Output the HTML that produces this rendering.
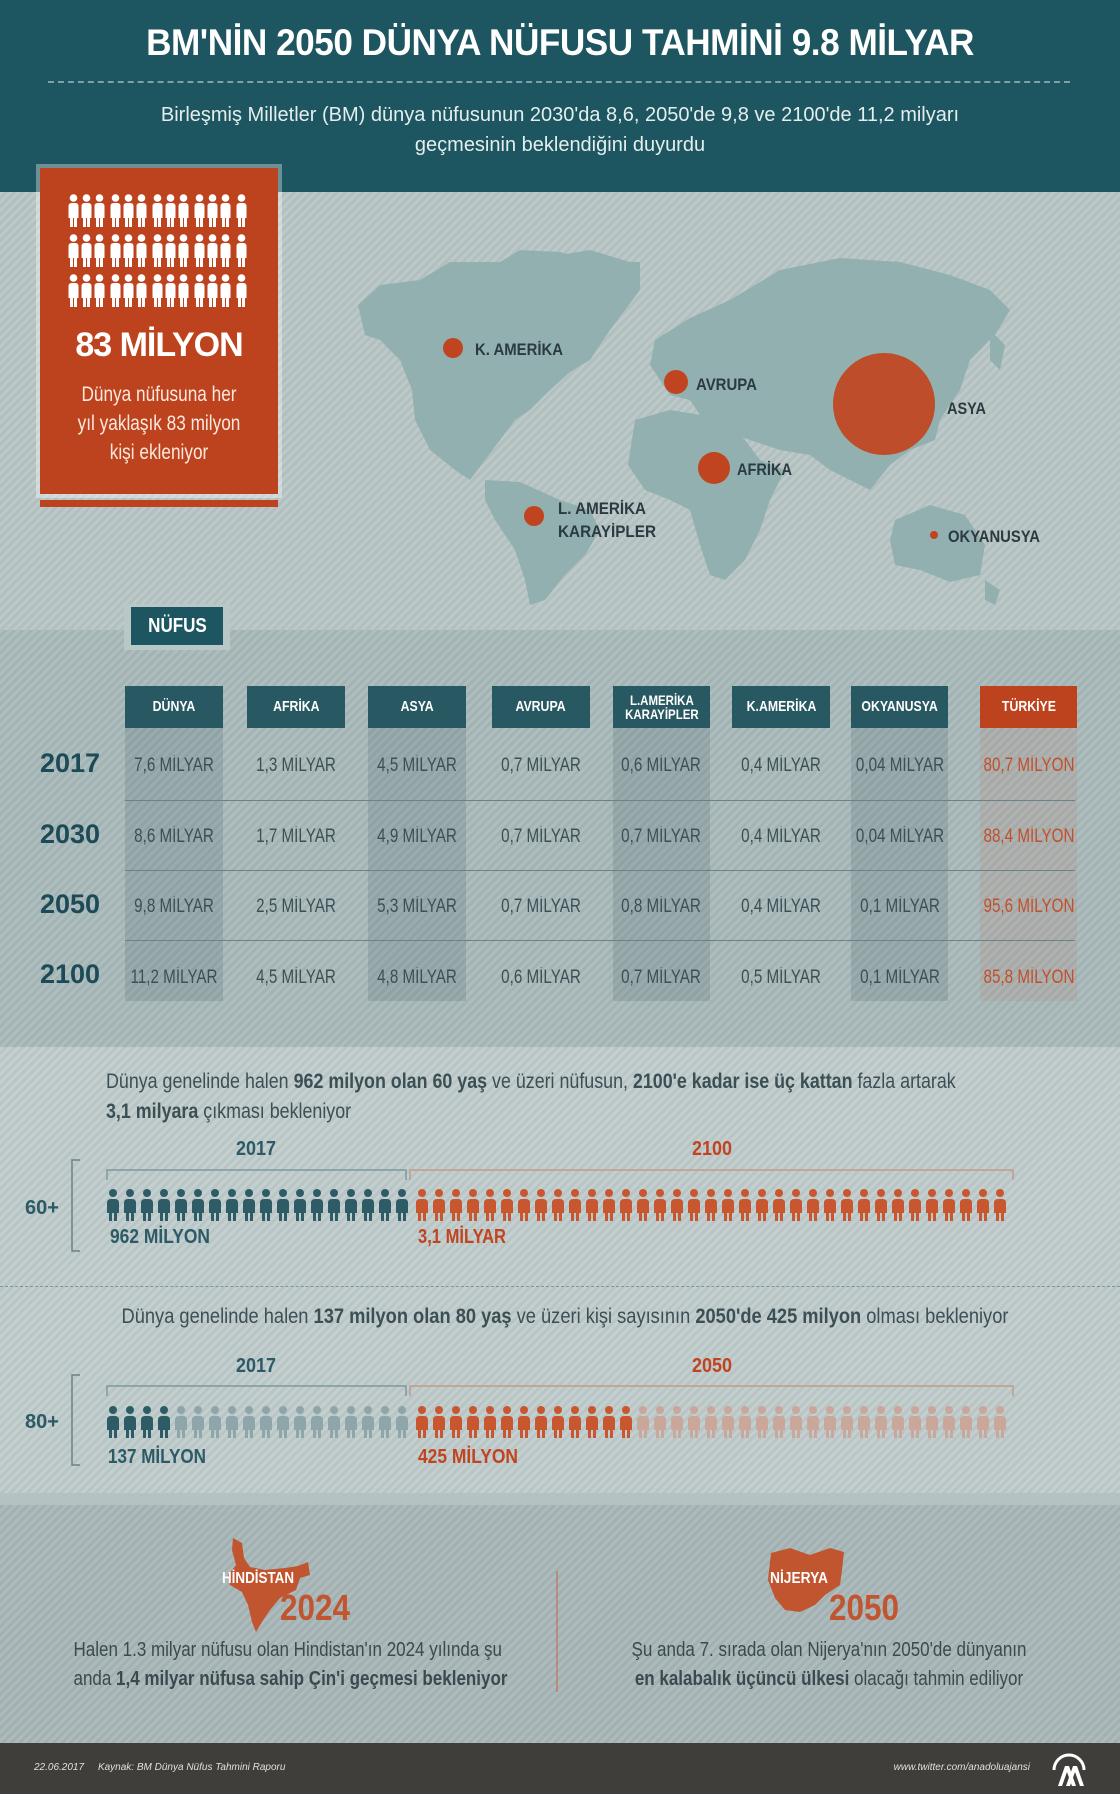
<!DOCTYPE html>
<html><head><meta charset="utf-8">
<style>
*{margin:0;padding:0;box-sizing:border-box}
body{width:1120px;height:1794px;position:relative;overflow:hidden;font-family:"Liberation Sans",sans-serif;background:#b9c6c6}
.a{position:absolute}
.stripe{background-image:repeating-linear-gradient(135deg,rgba(255,255,255,0.07) 0 3px,rgba(0,0,0,0.03) 3px 6px)}
.c{text-align:center;white-space:nowrap}
.hd{position:absolute;top:686px;height:42px;background:#285862;color:#fff;font-weight:bold;font-size:15px;display:flex;align-items:center;justify-content:center;text-align:center;line-height:14px;white-space:nowrap}
.hd span{display:inline-block;transform:scaleX(.82)}
.col{position:absolute;top:728px;height:273px}
.v{position:absolute;font-size:19px;color:#3b4f55;text-align:center;width:120px;white-space:nowrap;transform:scaleX(.8)}
.yr{position:absolute;left:20px;width:100px;text-align:center;font-weight:bold;font-size:27px;color:#1c4a57}
.rl{position:absolute;left:125px;width:950px;height:1px;background:#6c8286}
</style></head><body>
<div class="a" style="left:0;top:0;width:1120px;height:192px;background:#1d5660"></div>
<div class="a c" style="left:0;top:22px;width:1120px;font-weight:bold;font-size:37px;color:#fff;letter-spacing:-0.5px;transform:scaleX(.95)">BM'NİN 2050 DÜNYA NÜFUSU TAHMİNİ 9.8 MİLYAR</div>
<div class="a" style="left:48px;top:81px;width:1022px;border-top:2px dashed #7fa1a6"></div>
<div class="a c" style="left:0;top:100px;width:1120px;font-size:20px;color:#e4eeee;line-height:30px">Birleşmiş Milletler (BM) dünya nüfusunun 2030'da 8,6, 2050'de 9,8 ve 2100'de 11,2 milyarı<br>geçmesinin beklendiğini duyurdu</div>
<div class="a stripe" style="left:0;top:192px;width:1120px;height:438px;background-color:#b8c5c5"></div>
<svg class="a" style="left:0;top:192px" width="1120" height="438" viewBox="0 192 1120 438">
<g fill="#93b0b0">
<path d="M358 305 L380 285 L420 280 L450 262 L500 262 L520 250 L560 252 L600 262 L640 262 L640 290 L610 330 L590 360 L570 372 L548 392 L530 410 L515 420 L500 440 L485 460 L470 480 L455 470 L430 450 L415 420 L412 390 L400 360 L380 340 L365 335 Z"/>
<path d="M560 255 L590 250 L630 262 L620 290 L590 300 L570 285 Z"/>
<path d="M485 480 L520 482 L560 500 L590 510 L600 530 L585 555 L565 575 L545 600 L530 605 L525 580 L515 550 L495 520 L485 500 Z"/>
<path d="M655 340 L690 318 L730 300 L780 270 L840 258 L900 262 L950 275 L990 290 L1010 310 L995 335 L970 360 L960 390 L940 420 L935 440 L910 450 L890 465 L870 490 L850 480 L830 470 L810 455 L780 450 L750 440 L720 430 L700 415 L690 400 L670 395 L660 380 L650 365 Z"/>
<path d="M635 420 L670 410 L720 418 L745 440 L760 460 L785 470 L770 500 L760 530 L745 560 L725 580 L710 575 L700 545 L690 510 L670 500 L645 490 L628 465 Z"/>
<path d="M895 520 L930 505 L965 515 L985 545 L980 575 L950 582 L920 570 L895 565 L890 540 Z"/>
<path d="M985 580 L1000 590 L995 605 L985 600 Z"/>
<path d="M990 330 L1005 345 L1000 370 L990 360 Z"/>
</g>
<g fill="#c0441f">
<circle cx="453" cy="348" r="10"/><circle cx="676" cy="382" r="12"/><circle cx="884" cy="404" r="51" opacity="0.92"/>
<circle cx="714" cy="468" r="16"/><circle cx="534" cy="516" r="10"/><circle cx="934" cy="535" r="4"/>
</g>
<g font-family="Liberation Sans,sans-serif" font-weight="bold" font-size="17" fill="#2a3a40">
<text x="475" y="355" textLength="88" lengthAdjust="spacingAndGlyphs">K. AMERİKA</text>
<text x="696" y="390" textLength="61" lengthAdjust="spacingAndGlyphs">AVRUPA</text>
<text x="947" y="414" textLength="39" lengthAdjust="spacingAndGlyphs">ASYA</text>
<text x="737" y="475" textLength="55" lengthAdjust="spacingAndGlyphs">AFRİKA</text>
<text x="558" y="514" textLength="88" lengthAdjust="spacingAndGlyphs">L. AMERİKA</text>
<text x="558" y="537" textLength="98" lengthAdjust="spacingAndGlyphs">KARAYİPLER</text>
<text x="948" y="542" textLength="92" lengthAdjust="spacingAndGlyphs">OKYANUSYA</text></g>
</svg>
<div class="a" style="left:36px;top:164px;width:246px;height:334px;background:#fff;opacity:0.35"></div>
<div class="a" style="left:40px;top:168px;width:238px;height:326px;background:#bd431e"></div>
<div class="a" style="left:40px;top:500px;width:238px;height:7px;background:#bd431e"></div>
<svg class="a" style="left:40px;top:168px" width="238" height="150">
<defs><g id="pw"><circle cx="5.5" cy="4" r="3.8"/><path d="M0.5 12 Q0.5 9 4 9 L7 9 Q10.5 9 10.5 12 L10.5 24 L9 24 L9 33 L6 33 L6 24 L5 24 L5 33 L2 33 L2 24 L0.5 24 Z"/></g></defs>
<g fill="#fff">
<use href="#pw" x="28" y="26"/><use href="#pw" x="41" y="26"/><use href="#pw" x="54" y="26"/><use href="#pw" x="70" y="26"/><use href="#pw" x="83" y="26"/><use href="#pw" x="96" y="26"/><use href="#pw" x="112" y="26"/><use href="#pw" x="125" y="26"/><use href="#pw" x="138" y="26"/><use href="#pw" x="154" y="26"/><use href="#pw" x="167" y="26"/><use href="#pw" x="180" y="26"/><use href="#pw" x="196" y="26"/>
<use href="#pw" x="28" y="66"/><use href="#pw" x="41" y="66"/><use href="#pw" x="54" y="66"/><use href="#pw" x="70" y="66"/><use href="#pw" x="83" y="66"/><use href="#pw" x="96" y="66"/><use href="#pw" x="112" y="66"/><use href="#pw" x="125" y="66"/><use href="#pw" x="138" y="66"/><use href="#pw" x="154" y="66"/><use href="#pw" x="167" y="66"/><use href="#pw" x="180" y="66"/><use href="#pw" x="196" y="66"/>
<use href="#pw" x="28" y="106"/><use href="#pw" x="41" y="106"/><use href="#pw" x="54" y="106"/><use href="#pw" x="70" y="106"/><use href="#pw" x="83" y="106"/><use href="#pw" x="96" y="106"/><use href="#pw" x="112" y="106"/><use href="#pw" x="125" y="106"/><use href="#pw" x="138" y="106"/><use href="#pw" x="154" y="106"/><use href="#pw" x="167" y="106"/><use href="#pw" x="180" y="106"/><use href="#pw" x="196" y="106"/>
</g></svg>
<div class="a c" style="left:40px;top:326px;width:238px;font-weight:bold;font-size:34px;color:#fff;letter-spacing:-1px">83 MİLYON</div>
<div class="a c" style="left:40px;top:380px;width:238px;font-size:21px;color:#fbe9e0;line-height:29px;transform:scaleX(.82)">Dünya nüfusuna her<br>yıl yaklaşık 83 milyon<br>kişi ekleniyor</div>
<div class="a stripe" style="left:0;top:630px;width:1120px;height:417px;background-color:#a8b8b9"></div>
<div class="a" style="left:124px;top:604px;width:106px;height:46px;background:#bac7c7"></div>
<div class="a c" style="left:131px;top:607px;width:92px;height:38px;background:#1d5660;color:#fff;font-weight:bold;font-size:20px;line-height:38px"><span style="display:inline-block;transform:scaleX(.85)">NÜFUS</span></div>
<div class="col" style="left:125px;width:98px;background:rgba(60,90,100,0.18)"></div>
<div class="col" style="left:368px;width:98px;background:rgba(60,90,100,0.18)"></div>
<div class="col" style="left:613px;width:97px;background:rgba(60,90,100,0.18)"></div>
<div class="col" style="left:851px;width:97px;background:rgba(60,90,100,0.18)"></div>
<div class="col" style="left:980px;width:97px;background:rgba(190,120,100,0.15)"></div>
<div class="hd" style="left:125px;width:98px"><span>DÜNYA</span></div>
<div class="hd" style="left:247px;width:98px"><span>AFRİKA</span></div>
<div class="hd" style="left:368px;width:98px"><span>ASYA</span></div>
<div class="hd" style="left:492px;width:98px"><span>AVRUPA</span></div>
<div class="hd" style="left:613px;width:97px;font-size:14px;line-height:14px"><span>L.AMERİKA<br>KARAYİPLER</span></div>
<div class="hd" style="left:732px;width:98px"><span>K.AMERİKA</span></div>
<div class="hd" style="left:851px;width:97px"><span>OKYANUSYA</span></div>
<div class="hd" style="left:980px;width:97px;background:#bd431e"><span>TÜRKİYE</span></div>
<div class="rl" style="top:800px"></div><div class="rl" style="top:870px"></div><div class="rl" style="top:940px"></div>
<div class="yr" style="top:748px">2017</div><div class="yr" style="top:819px">2030</div><div class="yr" style="top:889px">2050</div><div class="yr" style="top:959px">2100</div>
<div style="position:absolute;left:0;top:755px">
<div class="v" style="left:114px;top:0">7,6 MİLYAR</div><div class="v" style="left:236px;top:0">1,3 MİLYAR</div><div class="v" style="left:357px;top:0">4,5 MİLYAR</div><div class="v" style="left:481px;top:0">0,7 MİLYAR</div><div class="v" style="left:601px;top:0">0,6 MİLYAR</div><div class="v" style="left:721px;top:0">0,4 MİLYAR</div><div class="v" style="left:840px;top:0">0,04 MİLYAR</div><div class="v" style="left:969px;top:0;color:#c0502d">80,7 MİLYON</div>
<div class="v" style="left:114px;top:71px">8,6 MİLYAR</div><div class="v" style="left:236px;top:71px">1,7 MİLYAR</div><div class="v" style="left:357px;top:71px">4,9 MİLYAR</div><div class="v" style="left:481px;top:71px">0,7 MİLYAR</div><div class="v" style="left:601px;top:71px">0,7 MİLYAR</div><div class="v" style="left:721px;top:71px">0,4 MİLYAR</div><div class="v" style="left:840px;top:71px">0,04 MİLYAR</div><div class="v" style="left:969px;top:71px;color:#c0502d">88,4 MİLYON</div>
<div class="v" style="left:114px;top:141px">9,8 MİLYAR</div><div class="v" style="left:236px;top:141px">2,5 MİLYAR</div><div class="v" style="left:357px;top:141px">5,3 MİLYAR</div><div class="v" style="left:481px;top:141px">0,7 MİLYAR</div><div class="v" style="left:601px;top:141px">0,8 MİLYAR</div><div class="v" style="left:721px;top:141px">0,4 MİLYAR</div><div class="v" style="left:840px;top:141px">0,1 MİLYAR</div><div class="v" style="left:969px;top:141px;color:#c0502d">95,6 MİLYON</div>
<div class="v" style="left:114px;top:212px">11,2 MİLYAR</div><div class="v" style="left:236px;top:212px">4,5 MİLYAR</div><div class="v" style="left:357px;top:212px">4,8 MİLYAR</div><div class="v" style="left:481px;top:212px">0,6 MİLYAR</div><div class="v" style="left:601px;top:212px">0,7 MİLYAR</div><div class="v" style="left:721px;top:212px">0,5 MİLYAR</div><div class="v" style="left:840px;top:212px">0,1 MİLYAR</div><div class="v" style="left:969px;top:212px;color:#c0502d">85,8 MİLYON</div>
</div>
<div class="a stripe" style="left:0;top:1047px;width:1120px;height:446px;background-color:#bfcbcb"></div>
<div class="a" style="left:106px;top:1067px;font-size:21px;color:#3c4f55;line-height:30px;white-space:nowrap;transform:scaleX(.85);transform-origin:0 0">Dünya genelinde halen <b>962 milyon olan 60 yaş</b> ve üzeri nüfusun, <b>2100'e kadar ise üç kattan</b> fazla artarak<br><b>3,1 milyara</b> çıkması bekleniyor</div>
<div class="a" style="left:0;top:1286px;width:1120px;border-top:1.5px dashed #7f9599"></div>
<div class="a c" style="left:0;top:1305px;width:1130px;font-size:21px;color:#3c4f55;transform:scaleX(.87)">Dünya genelinde halen <b>137 milyon olan 80 yaş</b> ve üzeri kişi sayısının <b>2050'de 425 milyon</b> olması bekleniyor</div>
<svg class="a" style="left:0;top:1047px" width="1120" height="446" viewBox="0 1047 1120 446">
<defs><g id="p"><circle cx="6" cy="4" r="4"/><path d="M0 14 Q0 10 4 10 L8 10 Q12 10 12 14 L12 24 L10 24 L10 32 L7 32 L7 24 L5 24 L5 32 L2 32 L2 24 L0 24 Z"/></g></defs>
<g font-family="Liberation Sans,sans-serif" font-weight="bold" font-size="20">
<text x="256" y="1155" text-anchor="middle" fill="#2c5a66" textLength="40" lengthAdjust="spacingAndGlyphs">2017</text>
<text x="712" y="1155" text-anchor="middle" fill="#c0441f" textLength="40" lengthAdjust="spacingAndGlyphs">2100</text>
<text x="256" y="1372" text-anchor="middle" fill="#2c5a66" textLength="40" lengthAdjust="spacingAndGlyphs">2017</text>
<text x="712" y="1372" text-anchor="middle" fill="#c0441f" textLength="40" lengthAdjust="spacingAndGlyphs">2050</text>
<text x="110" y="1243" fill="#2c5a66" textLength="100" lengthAdjust="spacingAndGlyphs">962 MİLYON</text>
<text x="418" y="1243" fill="#c0441f" textLength="88" lengthAdjust="spacingAndGlyphs">3,1 MİLYAR</text>
<text x="108" y="1463" fill="#2c5a66" textLength="98" lengthAdjust="spacingAndGlyphs">137 MİLYON</text>
<text x="418" y="1463" fill="#c0441f" textLength="100" lengthAdjust="spacingAndGlyphs">425 MİLYON</text>
<text x="25" y="1214" fill="#2c5a66" textLength="34" lengthAdjust="spacingAndGlyphs">60+</text>
<text x="25" y="1428" fill="#2c5a66" textLength="34" lengthAdjust="spacingAndGlyphs">80+</text>
</g>
<g fill="none" stroke-width="1.5">
<path d="M80 1160 L72 1160 L72 1251 L80 1251" stroke="#6a8288"/>
<path d="M80 1375 L72 1375 L72 1465 L80 1465" stroke="#6a8288"/>
<path d="M107 1180 L107 1170 L406 1170 L406 1180" stroke="#7d9aa0"/>
<path d="M410 1180 L410 1170 L1013 1170 L1013 1180" stroke="#c49a8c"/>
<path d="M107 1396 L107 1386 L406 1386 L406 1396" stroke="#7d9aa0"/>
<path d="M410 1396 L410 1386 L1013 1386 L1013 1396" stroke="#c49a8c"/>
</g>
<g fill="#2e5c66">
<use href="#p" x="107" y="1189"/><use href="#p" x="124" y="1189"/><use href="#p" x="141" y="1189"/><use href="#p" x="158" y="1189"/><use href="#p" x="175" y="1189"/><use href="#p" x="192" y="1189"/><use href="#p" x="209" y="1189"/><use href="#p" x="226" y="1189"/><use href="#p" x="243" y="1189"/><use href="#p" x="260" y="1189"/><use href="#p" x="277" y="1189"/><use href="#p" x="294" y="1189"/><use href="#p" x="311" y="1189"/><use href="#p" x="328" y="1189"/><use href="#p" x="345" y="1189"/><use href="#p" x="362" y="1189"/><use href="#p" x="379" y="1189"/><use href="#p" x="396" y="1189"/>
</g>
<g fill="#c8562f">
<use href="#p" x="416" y="1189"/><use href="#p" x="433" y="1189"/><use href="#p" x="450" y="1189"/><use href="#p" x="467" y="1189"/><use href="#p" x="484" y="1189"/><use href="#p" x="501" y="1189"/><use href="#p" x="518" y="1189"/><use href="#p" x="535" y="1189"/><use href="#p" x="552" y="1189"/><use href="#p" x="569" y="1189"/><use href="#p" x="586" y="1189"/><use href="#p" x="603" y="1189"/><use href="#p" x="620" y="1189"/><use href="#p" x="637" y="1189"/><use href="#p" x="654" y="1189"/><use href="#p" x="671" y="1189"/><use href="#p" x="688" y="1189"/><use href="#p" x="705" y="1189"/><use href="#p" x="722" y="1189"/><use href="#p" x="739" y="1189"/><use href="#p" x="756" y="1189"/><use href="#p" x="773" y="1189"/><use href="#p" x="790" y="1189"/><use href="#p" x="807" y="1189"/><use href="#p" x="824" y="1189"/><use href="#p" x="841" y="1189"/><use href="#p" x="858" y="1189"/><use href="#p" x="875" y="1189"/><use href="#p" x="892" y="1189"/><use href="#p" x="909" y="1189"/><use href="#p" x="926" y="1189"/><use href="#p" x="943" y="1189"/><use href="#p" x="960" y="1189"/><use href="#p" x="977" y="1189"/><use href="#p" x="994" y="1189"/>
</g>
<g fill="#2e5c66">
<use href="#p" x="107" y="1406"/><use href="#p" x="124" y="1406"/><use href="#p" x="141" y="1406"/><use href="#p" x="158" y="1406"/></g>
<g fill="#8ea6aa">
<use href="#p" x="175" y="1406"/><use href="#p" x="192" y="1406"/><use href="#p" x="209" y="1406"/><use href="#p" x="226" y="1406"/><use href="#p" x="243" y="1406"/><use href="#p" x="260" y="1406"/><use href="#p" x="277" y="1406"/><use href="#p" x="294" y="1406"/><use href="#p" x="311" y="1406"/><use href="#p" x="328" y="1406"/><use href="#p" x="345" y="1406"/><use href="#p" x="362" y="1406"/><use href="#p" x="379" y="1406"/><use href="#p" x="396" y="1406"/></g>
<g fill="#c8562f">
<use href="#p" x="416" y="1406"/><use href="#p" x="433" y="1406"/><use href="#p" x="450" y="1406"/><use href="#p" x="467" y="1406"/><use href="#p" x="484" y="1406"/><use href="#p" x="501" y="1406"/><use href="#p" x="518" y="1406"/><use href="#p" x="535" y="1406"/><use href="#p" x="552" y="1406"/><use href="#p" x="569" y="1406"/><use href="#p" x="586" y="1406"/><use href="#p" x="603" y="1406"/><use href="#p" x="620" y="1406"/></g>
<g fill="#c9a79b">
<use href="#p" x="637" y="1406"/><use href="#p" x="654" y="1406"/><use href="#p" x="671" y="1406"/><use href="#p" x="688" y="1406"/><use href="#p" x="705" y="1406"/><use href="#p" x="722" y="1406"/><use href="#p" x="739" y="1406"/><use href="#p" x="756" y="1406"/><use href="#p" x="773" y="1406"/><use href="#p" x="790" y="1406"/><use href="#p" x="807" y="1406"/><use href="#p" x="824" y="1406"/><use href="#p" x="841" y="1406"/><use href="#p" x="858" y="1406"/><use href="#p" x="875" y="1406"/><use href="#p" x="892" y="1406"/><use href="#p" x="909" y="1406"/><use href="#p" x="926" y="1406"/><use href="#p" x="943" y="1406"/><use href="#p" x="960" y="1406"/><use href="#p" x="977" y="1406"/><use href="#p" x="994" y="1406"/></g>
</svg>
<div class="a stripe" style="left:0;top:1493px;width:1120px;height:250px;background-color:#a7b6b7"></div>
<div class="a" style="left:0;top:1493px;width:1120px;height:12px;background:#b5c2c3"></div>
<svg class="a" style="left:0;top:1493px" width="1120" height="250" viewBox="0 1493 1120 250">
<g fill="#c0552f">
<path d="M233 1538 L242 1543 L244 1558 L250 1567 L265 1570 L285 1568 L298 1566 L308 1562 L310 1575 L300 1578 L296 1590 L280 1598 L270 1610 L262 1622 L256 1632 L252 1622 L248 1605 L242 1592 L230 1585 L228 1575 L236 1565 L232 1550 Z"/>
<path d="M771 1553 L790 1548 L810 1555 L830 1548 L844 1552 L842 1570 L840 1585 L825 1595 L815 1605 L800 1612 L785 1610 L775 1598 L768 1580 Z"/>
</g>
<g font-family="Liberation Sans,sans-serif" font-weight="bold">
<text x="258" y="1583" text-anchor="middle" font-size="16" fill="#fff" textLength="72" lengthAdjust="spacingAndGlyphs">HİNDİSTAN</text>
<text x="315" y="1620" text-anchor="middle" font-size="36" fill="#c0552f" textLength="70" lengthAdjust="spacingAndGlyphs">2024</text>
<text x="799" y="1583" text-anchor="middle" font-size="16" fill="#fff" textLength="58" lengthAdjust="spacingAndGlyphs">NİJERYA</text>
<text x="864" y="1620" text-anchor="middle" font-size="36" fill="#c0552f" textLength="70" lengthAdjust="spacingAndGlyphs">2050</text>
</g>
<line x1="557" y1="1571" x2="557" y2="1692" stroke="#c0654a" stroke-width="1"/>
</svg>
<div class="a c" style="left:36px;top:1636px;width:500px;font-size:20px;color:#3a4a50;line-height:29px;transform:scaleX(.85)">Halen 1.3 milyar nüfusu olan Hindistan'ın 2024 yılında şu<br>anda <b>1,4 milyar nüfusa sahip Çin'i geçmesi bekleniyor</b></div>
<div class="a c" style="left:579px;top:1636px;width:500px;font-size:20px;color:#3a4a50;line-height:29px;transform:scaleX(.85)">Şu anda 7. sırada olan Nijerya'nın 2050'de dünyanın<br><b>en kalabalık üçüncü ülkesi</b> olacağı tahmin ediliyor</div>
<div class="a" style="left:0;top:1743px;width:1120px;height:51px;background:#403e3a"></div>
<div class="a" style="left:34px;top:1762px;font-size:10px;color:#e0e0e0;font-style:italic">22.06.2017 &nbsp;&nbsp;&nbsp;&nbsp;Kaynak: BM Dünya Nüfus Tahmini Raporu</div>
<div class="a" style="left:880px;top:1762px;width:150px;text-align:right;font-size:10px;color:#e0e0e0;font-style:italic">www.twitter.com/anadoluajansi</div>
<svg class="a" style="left:1050px;top:1750px" width="38" height="38">
<path d="M4 20 A15 15 0 0 1 34 20" fill="none" stroke="#fff" stroke-width="3"/>
<path d="M8 36 L15 16 L19 16 L26 36 L22 36 L17 22 L12 36 Z M16 36 L23 16 L27 16 L34 36 L30 36 L25 22 L20 36 Z" fill="#fff"/>
</svg>
</body></html>
